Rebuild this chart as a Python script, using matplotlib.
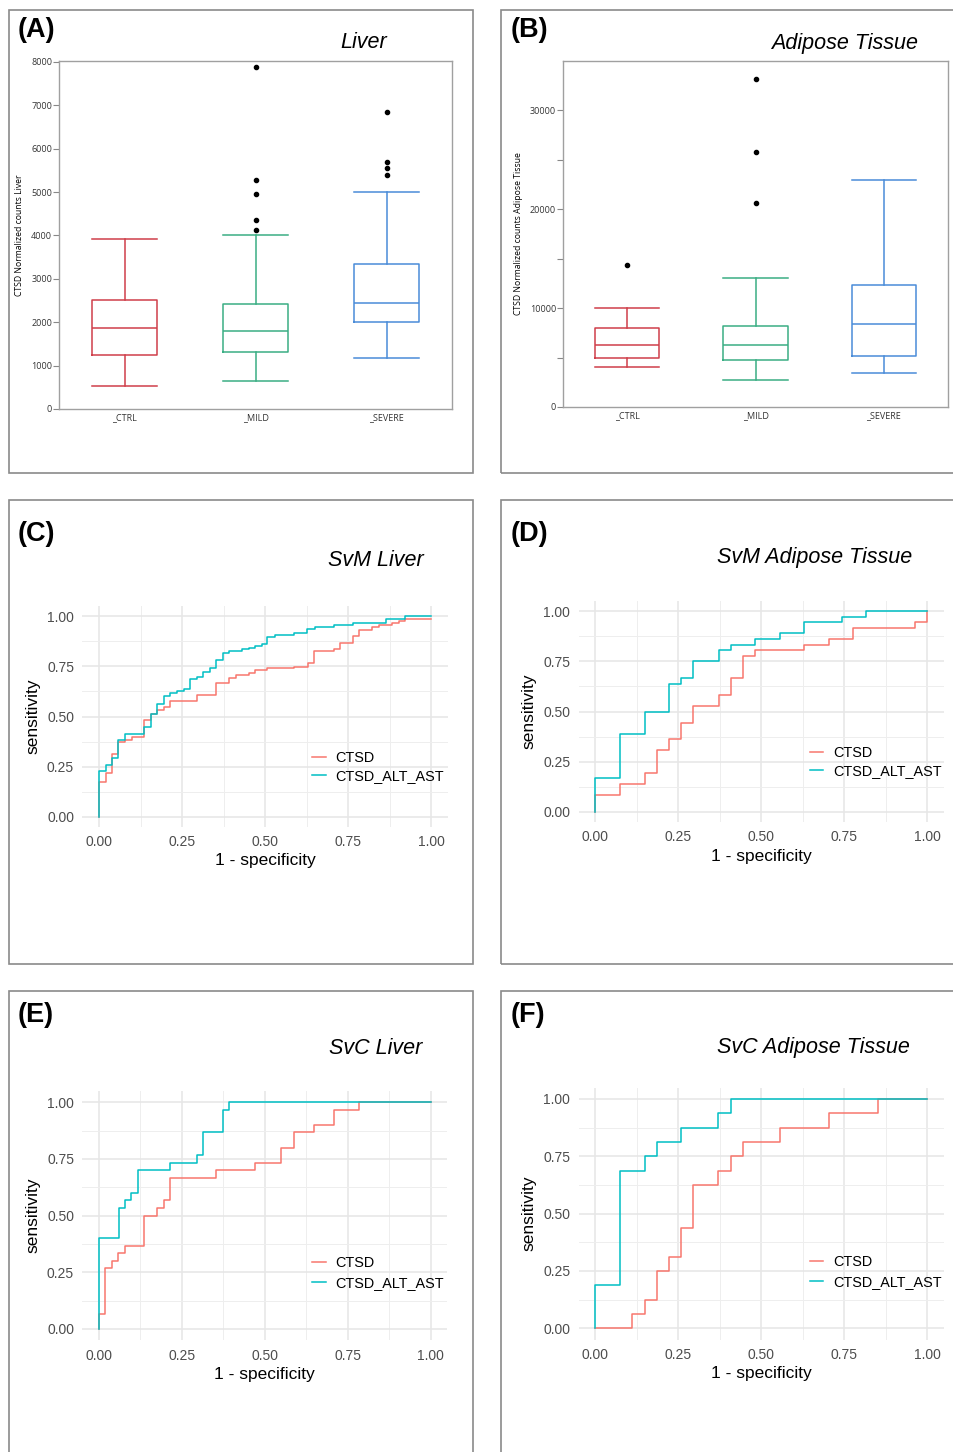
import numpy as np
import matplotlib
matplotlib.use("Agg")
import matplotlib.pyplot as plt
from matplotlib.patches import Rectangle
from matplotlib.lines import Line2D

W, H = 954, 1452

# ---- box plot data (CTSD normalized counts) ----
groups = ["_CTRL", "_MILD", "_SEVERE"]
liver_lo = [540, 640, 1170]
liver_q1 = [1250, 1310, 2005]
liver_med = [1875, 1800, 2445]
liver_q3 = [2520, 2430, 3350]
liver_hi = [3910, 4020, 4990]
liver_out = [[], [7890, 5270, 4950, 4360, 4135], [6840, 5690, 5550, 5395]]

adip_lo = [4020, 2770, 3440]
adip_q1 = [4930, 4760, 5165]
adip_med = [6245, 6245, 8440]
adip_q3 = [7965, 8170, 12390]
adip_hi = [10060, 13060, 22950]
adip_out = [[14340], [33210, 25785, 20655], []]

# ---- ROC data: (1 - specificity, sensitivity) at the end of each step ----
svm_liver_ctsd_x = [0, 0.020, 0.039, 0.058, 0.078, 0.098, 0.137, 0.157, 0.176, 0.196,
                    0.215, 0.294, 0.353, 0.392, 0.412, 0.451, 0.471, 0.507, 0.586,
                    0.629, 0.649, 0.708, 0.727, 0.764, 0.784, 0.823, 0.844, 0.882,
                    0.903, 0.921, 1.0]
svm_liver_ctsd_y = [0, 0.174, 0.221, 0.312, 0.374, 0.385, 0.399, 0.482, 0.510, 0.532,
                    0.545, 0.578, 0.605, 0.665, 0.690, 0.705, 0.718, 0.729, 0.739,
                    0.748, 0.764, 0.826, 0.836, 0.867, 0.900, 0.930, 0.943, 0.955,
                    0.965, 0.975, 0.987]
svm_liver_all_x = [0, 0.020, 0.039, 0.058, 0.078, 0.137, 0.157, 0.176, 0.196, 0.215,
                   0.235, 0.255, 0.274, 0.294, 0.313, 0.333, 0.353, 0.372, 0.392,
                   0.431, 0.451, 0.471, 0.492, 0.507, 0.529, 0.588, 0.628, 0.650,
                   0.708, 0.765, 0.863, 0.921, 1.0]
svm_liver_all_y = [0, 0.229, 0.261, 0.294, 0.382, 0.415, 0.449, 0.510, 0.561, 0.600,
                   0.615, 0.626, 0.638, 0.686, 0.698, 0.723, 0.739, 0.781, 0.817,
                   0.826, 0.834, 0.842, 0.850, 0.860, 0.895, 0.908, 0.917, 0.934,
                   0.946, 0.956, 0.965, 0.986, 1.0]

svm_adip_ctsd_x = [0, 0.074, 0.149, 0.185, 0.223, 0.259, 0.296, 0.372, 0.408, 0.445,
                   0.482, 0.630, 0.704, 0.778, 0.964, 1.0, 1.0]
svm_adip_ctsd_y = [0, 0.083, 0.139, 0.194, 0.306, 0.361, 0.444, 0.528, 0.583, 0.667,
                   0.778, 0.806, 0.833, 0.861, 0.917, 0.944, 1.0]
svm_adip_all_x = [0, 0.074, 0.149, 0.223, 0.259, 0.296, 0.372, 0.408, 0.482, 0.557,
                  0.630, 0.743, 0.816, 1.0]
svm_adip_all_y = [0, 0.167, 0.389, 0.500, 0.639, 0.667, 0.750, 0.806, 0.833, 0.861,
                  0.889, 0.944, 0.972, 1.0]

svc_liver_ctsd_x = [0, 0.019, 0.038, 0.058, 0.077, 0.137, 0.176, 0.196, 0.215, 0.353,
                    0.470, 0.549, 0.589, 0.647, 0.707, 0.785, 1.0]
svc_liver_ctsd_y = [0, 0.067, 0.267, 0.300, 0.333, 0.367, 0.500, 0.533, 0.567, 0.667,
                    0.700, 0.733, 0.800, 0.867, 0.900, 0.967, 1.0]
svc_liver_all_x = [0, 0.059, 0.077, 0.098, 0.117, 0.215, 0.294, 0.314, 0.373, 0.393, 1.0]
svc_liver_all_y = [0, 0.400, 0.533, 0.567, 0.600, 0.700, 0.733, 0.767, 0.867, 0.967, 1.0]

svc_adip_ctsd_x = [0, 0.111, 0.149, 0.185, 0.222, 0.259, 0.296, 0.371, 0.408, 0.445,
                   0.557, 0.705, 0.853, 1.0]
svc_adip_ctsd_y = [0, 0, 0.0625, 0.125, 0.25, 0.3125, 0.4375, 0.625, 0.6875, 0.75,
                   0.8125, 0.875, 0.9375, 1.0]
svc_adip_all_x = [0, 0.074, 0.149, 0.185, 0.259, 0.371, 0.408, 1.0]
svc_adip_all_y = [0, 0.1875, 0.6875, 0.75, 0.8125, 0.875, 0.9375, 1.0]

series_names = ["CTSD", "CTSD_ALT_AST"]
roc_cols = ["#F8766D", "#00BFC4"]
box_cols = ["#cf3f4a", "#3aae84", "#4a8cd8"]

fig = plt.figure(figsize=(W / 100, H / 100), dpi=100)


def px_axes(x0, x1, ytop, ybot):
    return fig.add_axes([x0 / W, 1 - ybot / H, (x1 - x0) / W, (ybot - ytop) / H])


def ftext(x, y, s, **kw):
    fig.text(x / W, 1 - y / H, s, **kw)


def border(x0, y0, x1, y1):
    fig.add_artist(Rectangle((x0 / W, 1 - y1 / H), (x1 - x0) / W, (y1 - y0) / H,
                             transform=fig.transFigure, fill=False,
                             ec="#8a8a8a", lw=1.2))


for b in [(9, 10, 473, 473), (501, 10, 970, 473), (9, 500, 473, 964),
          (501, 500, 970, 964), (9, 991, 473, 1470), (501, 991, 970, 1470)]:
    border(*b)

JMP = "Open Sans"
GG = "Liberation Sans"


def box_panel(ax, lo, q1, med, q3, hi, out, ymax, major, minor, ylabel):
    stats = [dict(whislo=lo[i], q1=q1[i], med=med[i], q3=q3[i], whishi=hi[i],
                  fliers=out[i], label=groups[i]) for i in range(len(groups))]
    bp = ax.bxp(stats, positions=[1, 2, 3], widths=0.5, capwidths=0.5,
                showfliers=True, patch_artist=False)
    for i, c in enumerate(box_cols):
        bp["boxes"][i].set(color=c, lw=1.1)
        bp["medians"][i].set(color=c, lw=1.1)
        for j in (2 * i, 2 * i + 1):
            bp["whiskers"][j].set(color=c, lw=1.1)
            bp["caps"][j].set(color=c, lw=1.1)
        bp["fliers"][i].set(marker="o", markerfacecolor="black",
                            markeredgecolor="black", markersize=3.0)
    ax.set_xlim(0.5, 3.5)
    ax.set_ylim(0, ymax)
    ax.set_yticks(major)
    ax.set_yticks(minor, minor=True)
    ax.tick_params(axis="y", which="both", length=4, width=0.8, color="#888888",
                   labelsize=6.5, labelcolor="#333333", pad=1)
    ax.tick_params(axis="x", length=0, labelsize=6.5, labelcolor="#333333", pad=3)
    for lab in ax.get_xticklabels() + ax.get_yticklabels():
        lab.set_fontfamily(JMP)
    for sp in ax.spines.values():
        sp.set_color("#a0a0a0")
        sp.set_linewidth(1.0)
    ax.set_ylabel(ylabel, fontsize=6.2, family=JMP, labelpad=5)


axA = px_axes(59, 452, 61, 409)
box_panel(axA, liver_lo, liver_q1, liver_med, liver_q3, liver_hi, liver_out,
          8020, np.arange(0, 8001, 1000), [], "CTSD Normalized counts Liver")
axB = px_axes(563, 948, 61, 407)
box_panel(axB, adip_lo, adip_q1, adip_med, adip_q3, adip_hi, adip_out,
          35000, [0, 10000, 20000, 30000], [5000, 15000, 25000],
          "CTSD Normalized counts Adipose Tissue")


def roc_panel(ax, xa, ya, xb, yb, leg_x, leg_y, leg_sp):
    ax.plot(xa, ya, drawstyle="steps-pre", color=roc_cols[0], lw=1.1)
    ax.plot(xb, yb, drawstyle="steps-pre", color=roc_cols[1], lw=1.1)
    ax.set_xlim(-0.05, 1.05)
    ax.set_ylim(-0.05, 1.05)
    ticks = [0, 0.25, 0.5, 0.75, 1.0]
    ax.set_xticks(ticks)
    ax.set_yticks(ticks)
    ax.set_xticks([0.125, 0.375, 0.625, 0.875], minor=True)
    ax.set_yticks([0.125, 0.375, 0.625, 0.875], minor=True)
    ax.set_xticklabels(["%.2f" % t for t in ticks])
    ax.set_yticklabels(["%.2f" % t for t in ticks])
    ax.grid(which="major", color="#e6e6e6", lw=1.1)
    ax.grid(which="minor", color="#eeeeee", lw=0.7)
    ax.set_axisbelow(True)
    for sp in ax.spines.values():
        sp.set_visible(False)
    ax.tick_params(which="both", length=0)
    ax.tick_params(axis="x", pad=6, labelsize=10, labelcolor="#4d4d4d")
    ax.tick_params(axis="y", pad=6, labelsize=10, labelcolor="#4d4d4d")
    for lab in ax.get_xticklabels() + ax.get_yticklabels():
        lab.set_fontfamily(GG)
    ax.set_xlabel("1 - specificity", fontsize=12.5, family=GG, labelpad=3)
    ax.set_ylabel("sensitivity", fontsize=12.5, family=GG, labelpad=5)
    handles = [Line2D([], [], color=c, lw=1.1) for c in roc_cols]
    ax.legend(handles, series_names, loc="center left", bbox_to_anchor=(leg_x, leg_y),
              frameon=False, borderpad=0, borderaxespad=0, handlelength=0.95,
              handletextpad=0.65, labelspacing=leg_sp,
              prop={"family": GG, "size": 10.4})


axC = px_axes(82.4, 447.6, 606, 827)
roc_panel(axC, svm_liver_ctsd_x, svm_liver_ctsd_y, svm_liver_all_x, svm_liver_all_y,
          0.629, 0.271, 0.25)
axD = px_axes(578.7, 943.6, 601, 822)
roc_panel(axD, svm_adip_ctsd_x, svm_adip_ctsd_y, svm_adip_all_x, svm_adip_all_y,
          0.633, 0.2715, 0.25)
axE = px_axes(82.4, 447.3, 1091, 1340.3)
roc_panel(axE, svc_liver_ctsd_x, svc_liver_ctsd_y, svc_liver_all_x, svc_liver_all_y,
          0.629, 0.270, 0.38)
axF = px_axes(578.7, 943.6, 1087.5, 1339.8)
roc_panel(axF, svc_adip_ctsd_x, svc_adip_ctsd_y, svc_adip_all_x, svc_adip_all_y,
          0.633, 0.269, 0.38)

# panel letters and titles
for x, y, s in [(18, 30, "(A)"), (511, 30, "(B)"), (18, 534, "(C)"),
                (511, 534, "(D)"), (18, 1015, "(E)"), (511, 1015, "(F)")]:
    ftext(x, y, s, fontsize=19.5, fontweight="bold", family=GG, va="center", ha="left")

for x, y, s in [(387, 43, "Liver"), (918, 43, "Adipose Tissue"),
                (424, 560, "SvM Liver"), (912, 558, "SvM Adipose Tissue"),
                (422, 1048, "SvC Liver"), (910, 1047, "SvC Adipose Tissue")]:
    ftext(x, y, s, fontsize=15.5, style="italic", family=GG, va="center", ha="right")

fig.savefig("out.png", dpi=100)
